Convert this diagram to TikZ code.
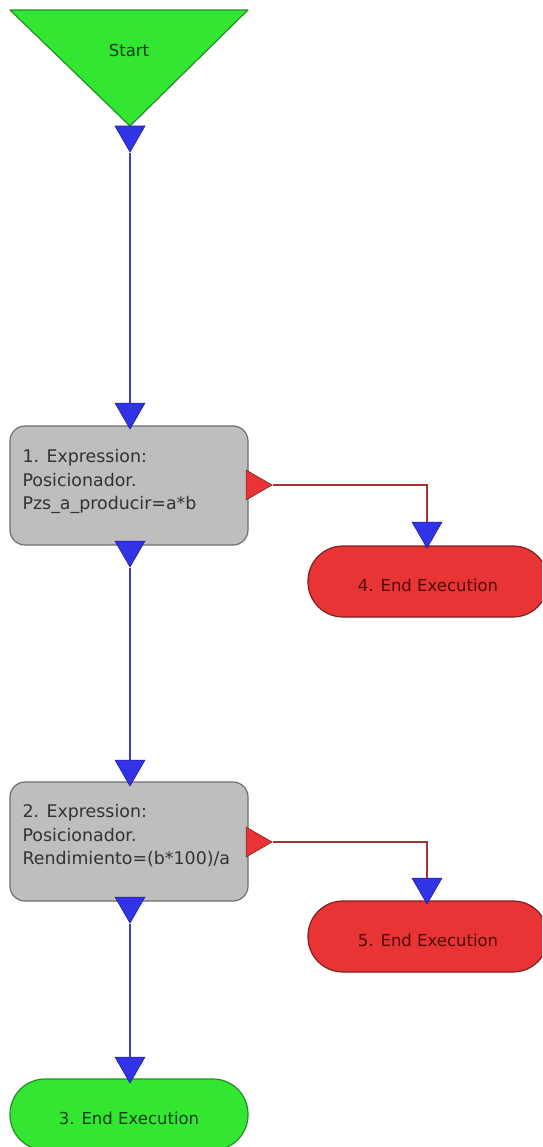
\documentclass[tikz,border=0pt]{standalone}
\usepackage{fontspec}
\setmainfont{DejaVu Sans}
\usetikzlibrary{shapes.geometric}
\definecolor{startgreen}{RGB}{50,230,50}
\definecolor{startedge}{RGB}{40,140,40}
\definecolor{endred}{RGB}{232,52,52}
\definecolor{endrededge}{RGB}{130,30,30}
\definecolor{boxgray}{RGB}{190,190,190}
\definecolor{boxedge}{RGB}{110,110,110}
\definecolor{portblue}{RGB}{50,50,230}
\definecolor{portblueedge}{RGB}{30,30,150}
\definecolor{flowblue}{RGB}{60,60,205}
\definecolor{flowred}{RGB}{165,50,50}
\definecolor{porttxt}{RGB}{50,50,50}
\tikzset{
  exprbox/.style={draw=boxedge, fill=boxgray, line width=1.2pt, rounded corners=15pt,
    minimum width=238pt, minimum height=119pt, inner sep=0pt},
  exprtext/.style={anchor=north west, align=left, inner sep=0pt, text=porttxt,
    font=\fontsize{17.4}{23.5}\selectfont},
  endlabel/.style={text height=21pt, text depth=1.6pt, font=\fontsize{16.5}{20}\selectfont},
  endred/.style={endlabel, draw=endrededge, fill=endred, line width=1.2pt, rounded corners=35pt,
    minimum width=240pt, minimum height=71pt, inner sep=0pt, text={rgb,255:red,80;green,10;blue,10}},
  endgreen/.style={endlabel, draw=startedge, fill=startgreen, line width=1.2pt, rounded corners=35pt,
    minimum width=238pt, minimum height=71pt, inner sep=0pt, text={rgb,255:red,20;green,60;blue,20}},
  portdown/.style={regular polygon, regular polygon sides=3, shape border rotate=180,
    minimum size=34.6pt, inner sep=0pt, fill=portblue, draw=portblueedge, line width=0.6pt},
  portright/.style={regular polygon, regular polygon sides=3, shape border rotate=-90,
    minimum size=34.6pt, inner sep=0pt, fill=endred, draw=endrededge, line width=0.6pt},
  blueflow/.style={draw=flowblue, line width=1.3pt},
  redflow/.style={draw=flowred, line width=1.1pt},
}
\begin{document}
\begin{tikzpicture}[x=1pt,y=-1pt]
  \clip (0,0) rectangle (542,1147);
  \fill[white] (0,0) rectangle (542,1147);

  % start block
  \draw[draw=startedge, fill=startgreen, line width=1.2pt, line join=round]
    (10,10) -- (248,10) -- (130,126) -- cycle;
  \node[text={rgb,255:red,20;green,60;blue,20}, font=\fontsize{16.5}{20}\selectfont] (start) at (129,50) {Start};

  % expression blocks
  \node[exprbox] (b1) at (129,485.5) {};
  \node[exprtext] (t1) at ([xshift=13pt,yshift=-24pt]b1.north west)
    {1. Expression:\\Posicionador.\\Pzs\_a\_producir=a*b};
  \node[exprbox] (b2) at (129,841.5) {};
  \node[exprtext] (t2) at ([xshift=13pt,yshift=-23pt]b2.north west)
    {2. Expression:\\Posicionador.\\Rendimiento=(b*100)/a};

  % end blocks
  \node[endred] (e4) at (428,581.5) {4. End Execution};
  \node[endred] (e5) at (428,936.5) {5. End Execution};
  \node[endgreen] (e3) at (129,1114.5) {3. End Execution};

  % ports
  \node[portdown] (p0) at (130,134.7) {};
  \node[portdown] (p1) at (130,411.7) {};
  \node[portdown] (p2) at (130,549.7) {};
  \node[portright] (r1) at (254.7,485) {};
  \node[portdown] (q4) at (427,530.7) {};
  \node[portdown] (p3) at (130,768.7) {};
  \node[portdown] (p4) at (130,905.7) {};
  \node[portright] (r2) at (254.7,842) {};
  \node[portdown] (q5) at (427,886.7) {};
  \node[portdown] (p5) at (130,1065.7) {};

  % connectors
  \draw[blueflow] (p0.south) -- (p1.north);
  \draw[blueflow] (p2.south) -- (p3.north);
  \draw[blueflow] (p4.south) -- (p5.north);
  \draw[redflow] (r1.east) -| (q4.north);
  \draw[redflow] (r2.east) -| (q5.north);
\end{tikzpicture}
\end{document}
